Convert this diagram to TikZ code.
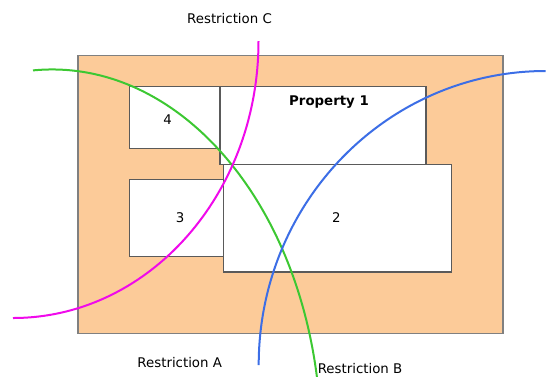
\documentclass[tikz,border=0pt]{standalone}
\usepackage{fontspec}
\setmainfont{DejaVu Sans}
\definecolor{peach}{RGB}{252,203,153}
\definecolor{plotgray}{RGB}{128,128,128}
\definecolor{lotgray}{RGB}{90,90,90}
\definecolor{resgreen}{RGB}{60,200,50}
\definecolor{resblue}{RGB}{60,110,230}
\definecolor{resmagenta}{RGB}{240,10,235}

\begin{document}
\begin{tikzpicture}[x=1pt,y=-1pt,font=\fontsize{13.33}{16}\selectfont]
  \tikzstyle{lot}=[draw=lotgray,line width=1.1pt,fill=white,inner sep=0pt,
                   outer sep=0pt,anchor=north west]
  \tikzstyle{restriction}=[line width=2pt]
  \useasboundingbox (0,0) rectangle (546,376);

  % site and lots
  \node[lot,draw=plotgray,fill=peach,minimum width=425pt,minimum height=278pt] (plot) at (78,55.5) {};
  \node[lot,minimum width=90.7pt,minimum height=61.6pt]  (lot4)  at (129.3,86.7)  {};
  \node[lot,minimum width=94.4pt,minimum height=77pt]    (lot3)  at (129.3,179.3) {};
  \node[lot,minimum width=206pt,minimum height=77.6pt]   (prop1) at (220,86.7)    {};
  \node[lot,minimum width=228pt,minimum height=107.7pt]  (lot2)  at (223.7,164.3) {};

  \node (num4)  at (167.7,119.3) {4};
  \node (num3)  at (180,217.7)   {3};
  \node (num2)  at (336.3,217.7) {2};
  \node[font=\fontsize{13.33}{16}\selectfont\bfseries] (title) at (329,101.7) {Property 1};

  % restriction lines
  \draw[restriction,resgreen] (33,70.4) coordinate (bStart)
        arc[start angle=94.05,end angle=10,x radius=269pt,y radius=372pt] coordinate (bEnd);
  \draw[restriction,resmagenta] (258.5,41) coordinate (cStart)
        arc[start angle=0,end angle=-90,x radius=245.5pt,y radius=277pt] coordinate (cEnd);
  \draw[restriction,resblue] (258.7,365) coordinate (aStart)
        arc[start angle=180,end angle=90,x radius=287pt,y radius=294pt] coordinate (aEnd);

  \node (resC) at (229.5,18.5)  {Restriction C};
  \node (resA) at (179.7,362.7) {Restriction A};
  \node (resB) at (360,368.5)   {Restriction B};
\end{tikzpicture}
\end{document}
